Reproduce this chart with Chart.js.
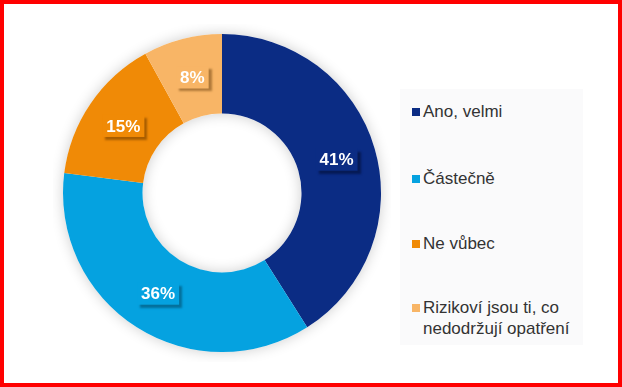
<!DOCTYPE html>
<html lang="cs">
<head>
    <meta charset="UTF-8">
    <title>Podíl odpovědí</title>
    <script src="https://cdn.jsdelivr.net/npm/chart.js"></script>
    <style>
        body {
            margin: 0;
            padding: 0;
            background-color: white;
            font-family: Arial, "Liberation Sans", sans-serif;
        }

        .frame {
            position: relative;
            width: 622px;
            height: 387px;
            box-sizing: border-box;
            border: 4px solid #ff0000;
            background-color: white;
        }

        .chart-box {
            position: absolute;
            left: 49px;
            top: 20px;
            width: 338px;
            height: 338px;
        }

        .legend {
            position: absolute;
            left: 396px;
            top: 85px;
            width: 183px;
            height: 256px;
            background-color: #fafafb;
            margin: 0;
            padding: 0;
            list-style: none;
        }

        .legend li {
            position: absolute;
            left: 23px;
            font-size: 17px;
            line-height: 21px;
            color: #333333;
            white-space: nowrap;
        }

        .legend li span {
            position: absolute;
            left: -11px;
            top: 7px;
            width: 8px;
            height: 8px;
        }
    </style>
</head>
<body>
<div class="frame">
    <div class="chart-box">
        <canvas id="donut"></canvas>
    </div>
    <ul class="legend" id="legend"></ul>
</div>
<script>
    var labels = ['Ano, velmi', 'Částečně', 'Ne vůbec', 'Rizikoví jsou ti, co<br>nedodržují opatření'];
    var values = [41, 36, 15, 8];
    var colors = ['#0b2c84', '#05a2e0', '#f08a06', '#f8b566'];
    var shadeColors = ['#061a55', '#04709c', '#a85d00', '#b07a3a'];
    var legendTops = [12, 79, 144, 208];

    var legend = document.getElementById('legend');
    labels.forEach(function (label, i) {
        var li = document.createElement('li');
        li.style.top = legendTops[i] + 'px';
        li.innerHTML = '<span style="background:' + colors[i] + '"></span>' + label;
        legend.appendChild(li);
    });

    // soft halo behind the ring
    var haloPlugin = {
        id: 'halo',
        beforeDatasetsDraw: function (chart) {
            var arc = chart.getDatasetMeta(0).data[0];
            var ctx = chart.ctx;
            ctx.save();
            ctx.shadowColor = 'rgba(0, 0, 0, 0.2)';
            ctx.shadowBlur = 14;
            ctx.beginPath();
            ctx.arc(arc.x, arc.y, arc.outerRadius, 0, Math.PI * 2);
            ctx.arc(arc.x, arc.y, arc.innerRadius, 0, Math.PI * 2, true);
            ctx.fillStyle = '#ffffff';
            ctx.fill();
            ctx.restore();
        }
    };

    // percentage labels with a small shadowed box
    var valueLabels = {
        id: 'valueLabels',
        afterDatasetsDraw: function (chart) {
            var ctx = chart.ctx;
            var meta = chart.getDatasetMeta(0);
            ctx.save();
            ctx.font = 'bold 17px Arial, "Liberation Sans", sans-serif';
            ctx.textAlign = 'center';
            ctx.textBaseline = 'middle';
            meta.data.forEach(function (arc, i) {
                var pos = arc.getCenterPoint();
                var text = values[i] + '%';
                var w = ctx.measureText(text).width + 8;
                var h = 22;
                ctx.save();
                ctx.shadowColor = shadeColors[i];
                ctx.shadowOffsetX = 3;
                ctx.shadowOffsetY = 3;
                ctx.shadowBlur = 2;
                ctx.fillStyle = colors[i];
                ctx.fillRect(pos.x - w / 2, pos.y - h / 2, w, h);
                ctx.restore();
                ctx.fillStyle = '#ffffff';
                ctx.fillText(text, pos.x, pos.y + 1);
            });
            ctx.restore();
        }
    };

    new Chart(document.getElementById('donut').getContext('2d'), {
        type: 'doughnut',
        data: {
            labels: labels,
            datasets: [{
                data: values,
                backgroundColor: colors,
                borderWidth: 0
            }]
        },
        options: {
            responsive: true,
            maintainAspectRatio: false,
            animation: false,
            cutout: '50%',
            layout: {padding: 10},
            plugins: {
                legend: {display: false},
                tooltip: {enabled: false}
            }
        },
        plugins: [haloPlugin, valueLabels]
    });
</script>
</body>
</html>
